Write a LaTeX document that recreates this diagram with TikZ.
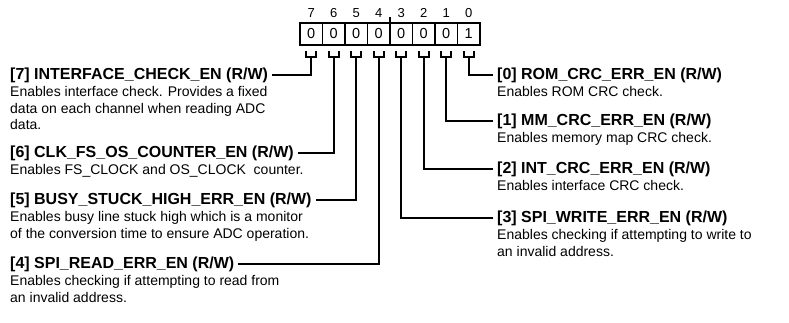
\documentclass[tikz,border=0pt]{standalone}
\usepackage{fontspec}
\setmainfont{Liberation Sans}
\usetikzlibrary{positioning}

\begin{document}
\begin{tikzpicture}[x=1pt, y=1pt,
    bitbox/.style={draw, line width=1.8pt, minimum width=22.5pt, minimum height=22pt,
      inner sep=0pt, outer sep=0pt, font=\fontsize{14.5}{16}\selectfont},
    bitnum/.style={inner sep=0pt, font=\fontsize{13}{14}\selectfont},
    title/.style={inner sep=0pt, font=\fontsize{16}{17}\selectfont\bfseries},
    desc/.style={inner sep=0pt, align=left, font=\fontsize{14}{16.5}\selectfont},
    wire/.style={line width=2pt}]

    \useasboundingbox (0,0) rectangle (789,-322);

    % Registro de 8 bits
    \foreach \i/\v in {7/0,6/0,5/0,4/0,3/0,2/0,1/0,0/1} {
        \node[bitbox] (b\i) at ({300+22.5*(7-\i)+11.25}, -34) {\v};
        \node[bitnum] (n\i) at ({300+22.5*(7-\i)+11.25}, -13) {\i};
        \coordinate (f\i) at ([yshift=-12pt]b\i.south);
        \draw[wire] ([shift={(-5pt,-6pt)}]b\i.south) |- (f\i) -| ([shift={(5pt,-6pt)}]b\i.south);
    }
    \draw[wire] (b4.north east) -- ++(0,6);

    % Campos a la izquierda
    \node[title, anchor=west] (t7) at (10, -75) {[7] INTERFACE\_CHECK\_EN (R/W)};
    \node[desc, below=3.5pt of t7.south west, anchor=north west] (d7)
        {Enables interface check. Provides a fixed\\data on each channel when reading ADC\\data.};
    \draw[wire, shorten <=4pt] (t7.east) -| (f7);

    \node[title, anchor=west] (t6) at (10, -153) {[6] CLK\_FS\_OS\_COUNTER\_EN (R/W)};
    \node[desc, below=3.5pt of t6.south west, anchor=north west] (d6)
        {Enables FS\_CLOCK and OS\_CLOCK\ \ counter.};
    \draw[wire, shorten <=4pt] (t6.east) -| (f6);

    \node[title, anchor=west] (t5) at (10, -200) {[5] BUSY\_STUCK\_HIGH\_ERR\_EN (R/W)};
    \node[desc, below=3.5pt of t5.south west, anchor=north west] (d5)
        {Enables busy line stuck high which is a monitor\\of the conversion time to ensure ADC operation.};
    \draw[wire, shorten <=4pt] (t5.east) -| (f5);

    \node[title, anchor=west] (t4) at (10, -264) {[4] SPI\_READ\_ERR\_EN (R/W)};
    \node[desc, below=3.5pt of t4.south west, anchor=north west] (d4)
        {Enables checking if attempting to read from\\an invalid address.};
    \draw[wire, shorten <=4pt] (t4.east) -| (f4);

    % Campos a la derecha
    \node[title, anchor=west] (t0) at (497, -75) {[0] ROM\_CRC\_ERR\_EN (R/W)};
    \node[desc, below=3.5pt of t0.south west, anchor=north west] (d0)
        {Enables ROM CRC check.};
    \draw[wire, shorten <=4pt] (t0.west) -| (f0);

    \node[title, anchor=west] (t1) at (497, -121) {[1] MM\_CRC\_ERR\_EN (R/W)};
    \node[desc, below=3.5pt of t1.south west, anchor=north west] (d1)
        {Enables memory map CRC check.};
    \draw[wire, shorten <=4pt] (t1.west) -| (f1);

    \node[title, anchor=west] (t2) at (497, -169) {[2] INT\_CRC\_ERR\_EN (R/W)};
    \node[desc, below=3.5pt of t2.south west, anchor=north west] (d2)
        {Enables interface CRC check.};
    \draw[wire, shorten <=4pt] (t2.west) -| (f2);

    \node[title, anchor=west] (t3) at (497, -218) {[3] SPI\_WRITE\_ERR\_EN (R/W)};
    \node[desc, below=3.5pt of t3.south west, anchor=north west] (d3)
        {Enables checking if attempting to write to\\an invalid address.};
    \draw[wire, shorten <=4pt] (t3.west) -| (f3);

\end{tikzpicture}
\end{document}
